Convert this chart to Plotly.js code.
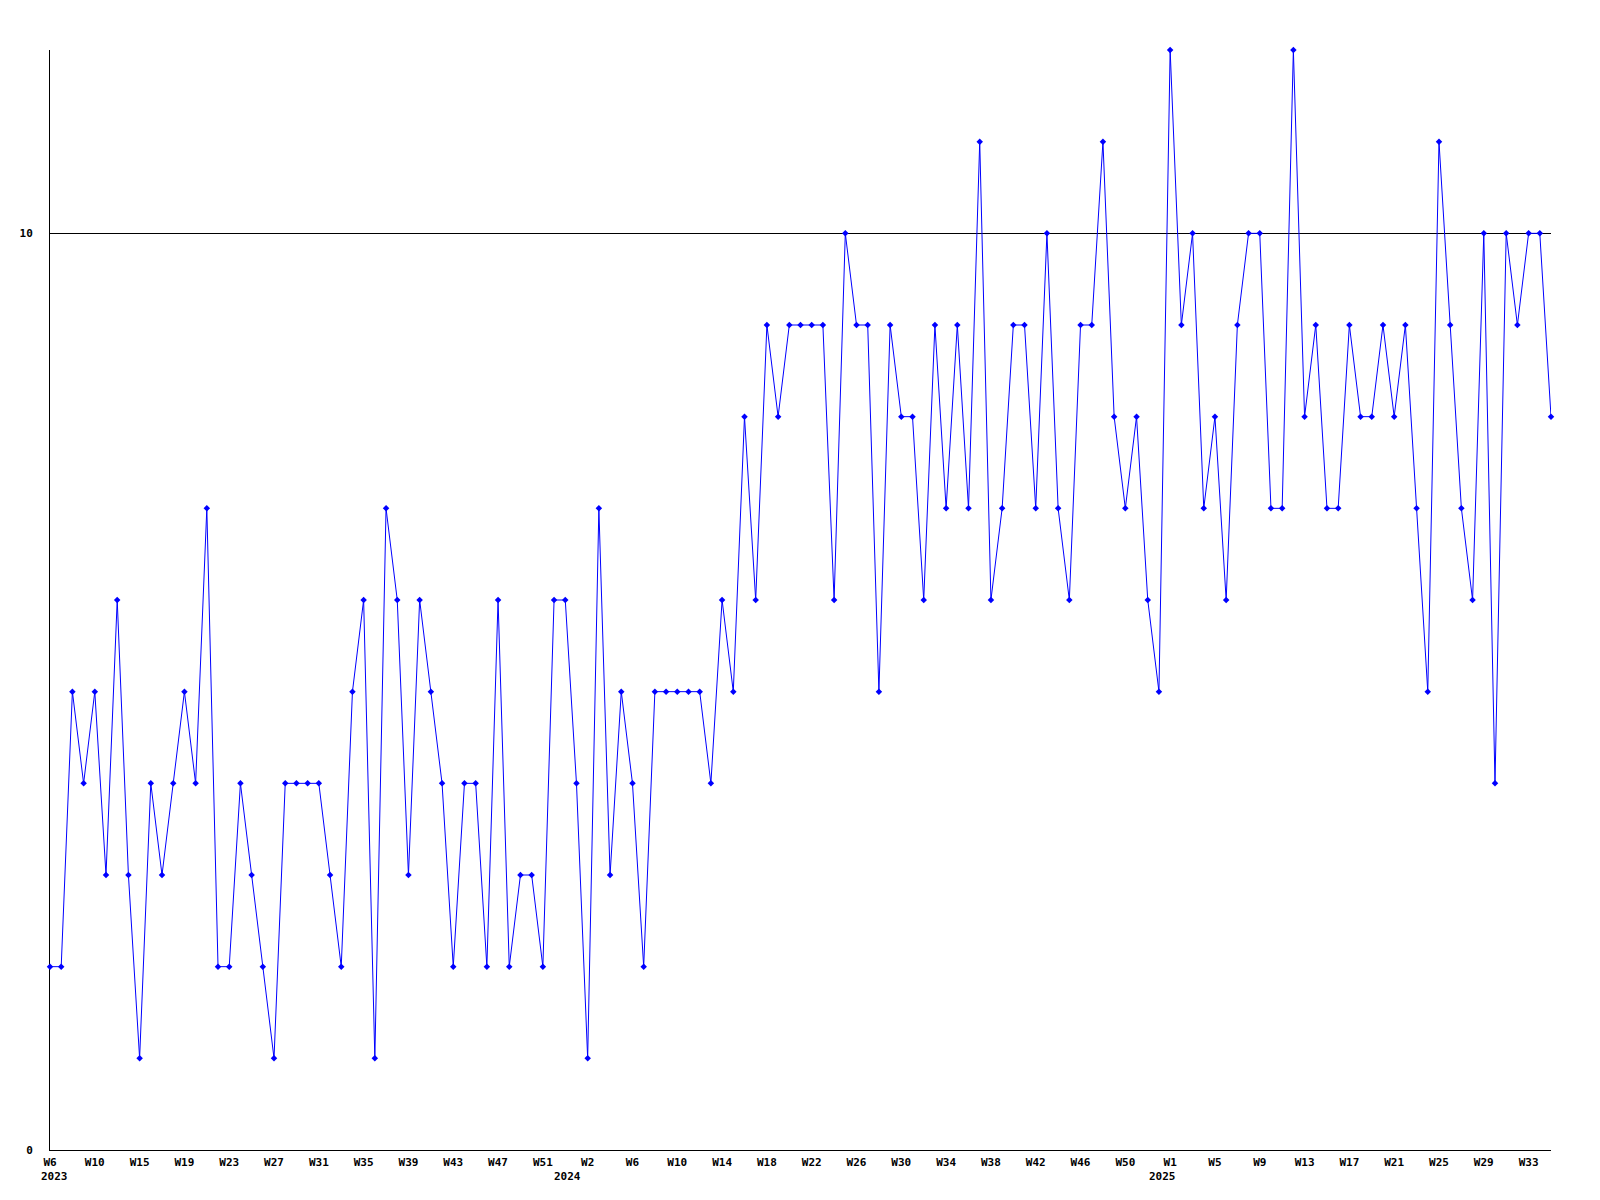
<!DOCTYPE html>
<html>
<head>
<meta charset="utf-8">
<script src="https://cdn.plot.ly/plotly-3.0.1.min.js"></script>
<style>html,body{margin:0;padding:0;background:#fff;}#chart{width:1600px;height:1200px;}</style>
</head>
<body>
<div id="chart"></div>
<script>
// Weekly values, 2023 W6 .. 2025 (one per week point)
const values = [
  2,2,5,4,5,3,6,3,1,4,3,4,5,4,7,2,2,4,3,2,
  1,4,4,4,4,3,2,5,6,1,7,6,3,6,5,4,2,4,4,2,
  6,2,3,3,2,6,6,4,1,7,3,5,4,2,5,5,5,5,5,4,
  6,5,8,6,9,8,9,9,9,9,6,10,9,9,5,9,8,8,6,9,
  7,9,7,11,6,7,9,9,7,10,7,6,9,9,11,8,7,8,6,5,
  12,9,10,7,8,6,9,10,10,7,7,12,8,9,7,7,9,8,8,9,
  8,9,7,5,11,9,7,6,10,4,10,9,10,10,8
];
// Tick labels, one every 4th week point
const tickLabels = [
  'W6','W10','W15','W19','W23','W27','W31','W35','W39','W43','W47','W51',
  'W2','W6','W10','W14','W18','W22','W26','W30','W34','W38','W42','W46','W50',
  'W1','W5','W9','W13','W17','W21','W25','W29','W33'
];
const yearLabels = ['2023','2024','2025'];
const yTickVals = [0,10];

const TICK_STEP = 4;
const xs = values.map((_, i) => i);
const tickVals = tickLabels.map((_, i) => i * TICK_STEP);

const fontFam = '"DejaVu Sans Mono", "Liberation Mono", monospace';

const trace = {
  x: xs, y: values, type: 'scatter', mode: 'lines+markers',
  line: {color: '#0000ff', width: 1},
  marker: {color: '#0000ff', size: 5, symbol: 'diamond'},
  cliponaxis: false, hoverinfo: 'y'
};

// year label placement (layout only)
const yearPos = [
  {x: 0, anchor: 'left', shift: -11},
  {x: 46.2, anchor: 'center', shift: 0},
  {x: 99.3, anchor: 'center', shift: 0}
];
const annotations = yearLabels.map((t, k) => ({
  text: '<b>' + t + '</b>', x: yearPos[k].x, xref: 'x',
  y: 0, yref: 'paper', xanchor: yearPos[k].anchor, yanchor: 'top',
  xshift: yearPos[k].shift, yshift: -18, showarrow: false,
  font: {family: fontFam, size: 11, color: '#000'}
}));

const layout = {
  width: 1600, height: 1200,
  margin: {l: 50, r: 49, t: 50, b: 50},
  paper_bgcolor: '#fff', plot_bgcolor: '#fff',
  showlegend: false,
  font: {family: fontFam, size: 11, color: '#000'},
  xaxis: {
    range: [0, values.length - 1], showgrid: false, zeroline: false,
    showline: true, linecolor: '#000', linewidth: 1, layer: 'below traces',
    tickmode: 'array', tickvals: tickVals,
    ticktext: tickLabels.map(t => '<b>' + t + '</b>'),
    ticks: '', ticklabelstandoff: 2,
    tickfont: {family: fontFam, size: 11, color: '#000'}
  },
  yaxis: {
    range: [0, 12], showgrid: true, gridcolor: '#000', gridwidth: 1,
    zeroline: false, showline: true, linecolor: '#000', linewidth: 1, layer: 'below traces',
    tickmode: 'array', tickvals: yTickVals,
    ticktext: yTickVals.map(v => '<b>' + v + '</b>'),
    ticks: '', ticklabelstandoff: 14,
    tickfont: {family: fontFam, size: 11, color: '#000'}
  },
  annotations: annotations
};

Plotly.newPlot('chart', [trace], layout, {displayModeBar: false, staticPlot: true});
</script>
</body>
</html>
